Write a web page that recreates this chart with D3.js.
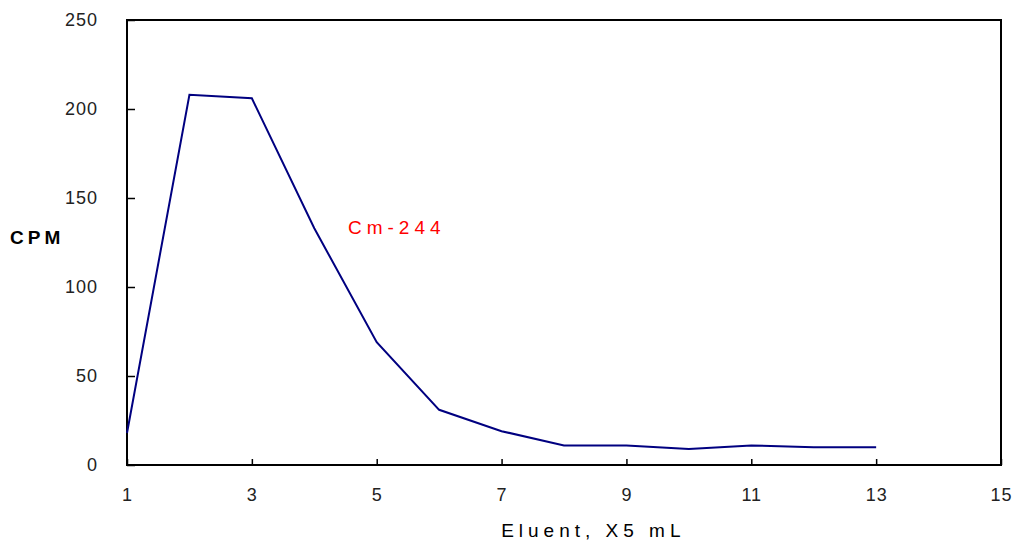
<!DOCTYPE html>
<html>
<head>
<meta charset="utf-8">
<script src="https://cdn.jsdelivr.net/npm/d3@7"></script>
<style>
  body { margin: 0; background: #fff; }
  text { font-family: "Liberation Sans", Arial, sans-serif; }
</style>
</head>
<body>
<script>
const svgWidth = 1015,
    svgHeight = 540,
    margin = { top: 20, right: 14, bottom: 75, left: 127 },
    width = svgWidth - margin.left - margin.right,
    height = svgHeight - margin.top - margin.bottom;

// Fraction number (x5 mL) and counts per minute
var eluent = [1, 2, 3, 4, 5, 6, 7, 8, 9, 10, 11, 12, 13];
var cpm = [18, 208, 206, 133, 69, 31, 19, 11, 11, 9, 11, 10, 10];
var xTicks = [1, 3, 5, 7, 9, 11, 13, 15];
var yTicks = [0, 50, 100, 150, 200, 250];

var svg = d3.select("body").append("svg")
    .attr("width", svgWidth)
    .attr("height", svgHeight)
    .append("g")
    .attr("transform", "translate(" + margin.left + ", " + margin.top + ")");

var x = d3.scaleLinear().domain([1, 15]).range([0, width]);
var y = d3.scaleLinear().domain([0, 250]).range([height, 0]);

// frame
svg.append("rect")
    .attr("width", width)
    .attr("height", height)
    .attr("fill", "none")
    .attr("stroke", "#000")
    .attr("stroke-width", 2);

// ticks point inward, labels drawn separately
var xAxis = svg.append("g")
    .attr("transform", "translate(0," + height + ")")
    .call(d3.axisBottom(x).tickValues(xTicks).tickSizeInner(-6).tickSizeOuter(0).tickPadding(23));
var yAxis = svg.append("g")
    .call(d3.axisLeft(y).tickValues(yTicks).tickSizeInner(-8).tickSizeOuter(0).tickPadding(29));

[xAxis, yAxis].forEach(function (a) {
    a.select(".domain").remove();
    a.selectAll("line").attr("stroke", "#000").attr("stroke-width", 1.5);
    a.selectAll("text")
        .attr("fill", "#222")
        .style("font-size", "18px")
        .style("letter-spacing", "1px")
        .style("font-family", "'Liberation Sans', Arial, sans-serif");
});

svg.append("path")
    .datum(eluent)
    .attr("fill", "none")
    .attr("stroke", "#000080")
    .attr("stroke-width", 2)
    .attr("d", d3.line()
        .x(function (d) { return x(d); })
        .y(function (d, i) { return y(cpm[i]); }));

svg.append("text")
    .attr("x", x(4.54))
    .attr("y", y(130))
    .attr("fill", "#ff0000")
    .style("font-size", "19px")
    .style("letter-spacing", "5px")
    .text("Cm-244");

svg.append("text")
    .attr("x", -margin.left + 10)
    .attr("y", y(124))
    .attr("fill", "#000")
    .style("font-size", "19px")
    .style("font-weight", "bold")
    .style("letter-spacing", "4px")
    .text("CPM");

svg.append("text")
    .attr("x", x(8.47))
    .attr("y", height + 72)
    .attr("text-anchor", "middle")
    .attr("fill", "#000")
    .style("font-size", "19px")
    .style("letter-spacing", "5px")
    .text("Eluent, X5 mL");
</script>
</body>
</html>
